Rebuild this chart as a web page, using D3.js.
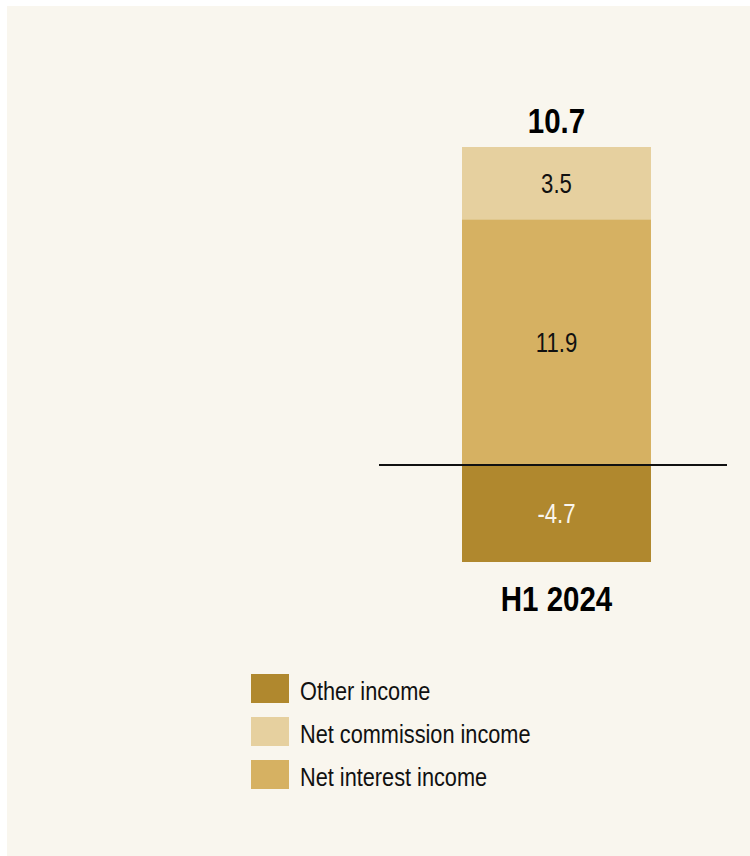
<!DOCTYPE html>
<html>
<head>
<meta charset="utf-8">
<script src="https://cdn.jsdelivr.net/npm/d3@7"></script>
<style>
  html, body { margin: 0; padding: 0; background: #ffffff; }
  svg { display: block; }
  text { font-family: "Liberation Sans", Arial, sans-serif; }
</style>
</head>
<body>
<svg id="chart" width="750" height="856"></svg>
<script>
// Income breakdown, EUR bn
const periods = ["H1 2024"];
const seriesKeys = ["interest", "commission", "other"];
const seriesNames = {
  other: "Other income",
  commission: "Net commission income",
  interest: "Net interest income"
};
const netInterest = [11.9];
const netCommission = [3.5];
const otherIncome = [-4.7];
const legendOrder = ["other", "commission", "interest"];

const colors = {
  other: "#b0882e",
  commission: "#e6d09f",
  interest: "#d6b162"
};

const rows = periods.map((p, i) => ({
  period: p,
  interest: netInterest[i],
  commission: netCommission[i],
  other: otherIncome[i]
}));

// plain hyphen for negatives
const fmt = d3.formatLocale({ decimal: ".", thousands: ",", grouping: [3], currency: ["", ""], minus: "-" }).format(".1f");

// condensed type: horizontally squeezed text
const NARROW = 0.82;
function narrowText(sel, xf, yf) {
  return sel.append("g")
    .attr("transform", (d, i) => `translate(${xf(d, i)},${yf(d, i)}) scale(${NARROW},1)`)
    .append("text");
}

const svg = d3.select("#chart");
const W = 750, H = 856;

// panel background
svg.append("rect")
  .attr("x", 7).attr("y", 6)
  .attr("width", W - 7).attr("height", H - 6)
  .attr("fill", "#f9f6ee");

const stack = d3.stack()
  .keys(seriesKeys)
  .offset(d3.stackOffsetDiverging);
const layers = stack(rows);

const yMin = d3.min(layers, l => d3.min(l, d => d[0]));
const yMax = d3.max(layers, l => d3.max(l, d => d[1]));

const y = d3.scaleLinear().domain([yMin, yMax]).range([562, 147]);
const x = d3.scaleBand().domain(periods).range([462, 651]).padding(0);

// stacked segments
const g = svg.append("g");
layers.forEach(layer => {
  const key = layer.key;
  g.selectAll(null)
    .data(layer)
    .join("rect")
    .attr("x", d => x(d.data.period))
    .attr("width", x.bandwidth())
    .attr("y", d => y(Math.max(d[0], d[1])))
    .attr("height", d => Math.abs(y(d[0]) - y(d[1])))
    .attr("fill", colors[key]);

  const lbl = g.selectAll(null).data(layer).join("g");
  narrowText(lbl,
      d => x(d.data.period) + x.bandwidth() / 2,
      d => (y(d[0]) + y(d[1])) / 2)
    .attr("dy", "0.36em")
    .attr("text-anchor", "middle")
    .attr("font-size", 27)
    .attr("fill", key === "other" ? "#f9f6ee" : "#111")
    .text(d => fmt(d.data[key]));
});

// zero baseline
svg.append("line")
  .attr("x1", 379).attr("x2", 727)
  .attr("y1", y(0)).attr("y2", y(0))
  .attr("stroke", "#111")
  .attr("stroke-width", 2);

// totals above the bars
const tot = svg.selectAll(null).data(rows).join("g");
narrowText(tot, d => x(d.period) + x.bandwidth() / 2, () => y(yMax) - 14)
  .attr("text-anchor", "middle")
  .attr("font-size", 36)
  .attr("font-weight", "bold")
  .attr("fill", "#000")
  .text(d => fmt(seriesKeys.reduce((s, k) => s + d[k], 0)));

// category labels below the bars
const cat = svg.selectAll(null).data(periods).join("g");
narrowText(cat, d => x(d) + x.bandwidth() / 2, () => y(yMin) + 49)
  .attr("text-anchor", "middle")
  .attr("font-size", 36)
  .attr("font-weight", "bold")
  .attr("fill", "#000")
  .text(d => d);

// legend
const legend = svg.append("g").attr("transform", "translate(251,674)");
const items = legend.selectAll("g")
  .data(legendOrder)
  .join("g")
  .attr("transform", (d, i) => `translate(0,${i * 43})`);
items.append("rect")
  .attr("width", 38).attr("height", 29)
  .attr("fill", d => colors[d]);
narrowText(items, () => 49, () => 16.5)
  .attr("dy", "0.36em")
  .attr("font-size", 26.5)
  .attr("fill", "#111")
  .text(d => seriesNames[d]);
</script>
</body>
</html>
